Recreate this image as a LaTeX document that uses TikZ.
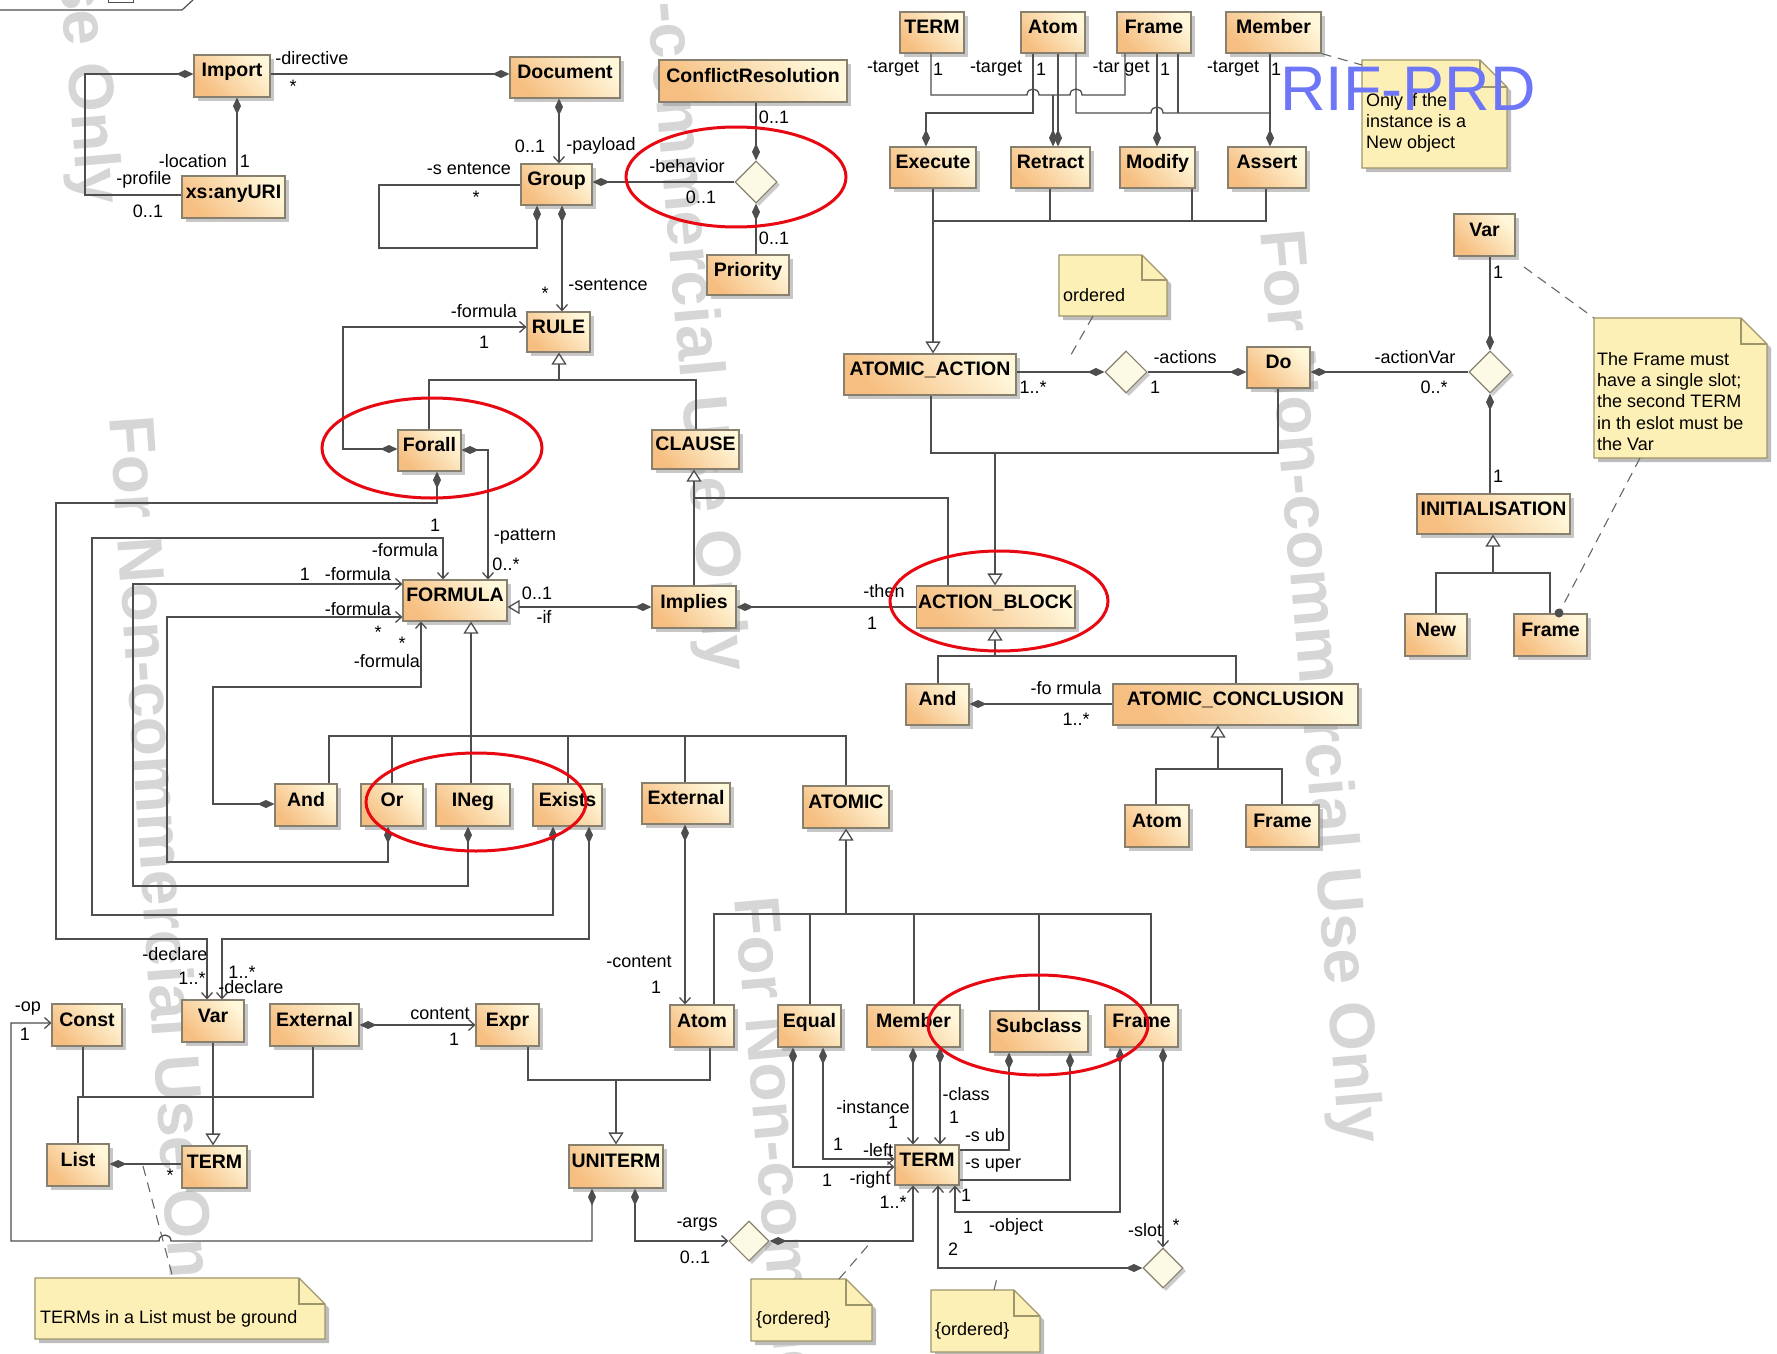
\documentclass[tikz,border=0pt]{standalone}
\usepackage{fontspec}
\setmainfont{Liberation Sans}
\usetikzlibrary{arrows.meta,shapes.geometric,shadows}

\definecolor{linec}{RGB}{78,78,78}
\definecolor{boxdark}{RGB}{246,190,128}
\definecolor{boxlight}{RGB}{255,247,218}
\definecolor{boxedge}{RGB}{136,128,110}
\definecolor{notefill}{RGB}{253,240,182}
\definecolor{noteedge}{RGB}{158,150,108}
\definecolor{diafill}{RGB}{252,250,228}
\definecolor{markred}{RGB}{232,8,18}
\definecolor{titleblue}{RGB}{110,118,248}
\definecolor{wmark}{RGB}{214,214,214}

\newcounter{lbn}
% class box given by its corners (x1,y1)-(x2,y2)
\newcommand\umlclass[6]{%
  \pgfmathsetmacro\ubw{#4-#2}%
  \pgfmathsetmacro\ubh{#5-#3}%
  \pgfmathsetmacro\ubx{(#2+#4)/2}%
  \pgfmathsetmacro\uby{(#3+#5)/2}%
  \node[umlbox, minimum width=\ubw pt, minimum height=\ubh pt] (#1) at (\ubx,\uby) {#6};}
% connector end label
\newcommand\elab[3]{\stepcounter{lbn}\node[lbl] (lab\arabic{lbn}) at (#1,#2) {#3};}
% note body with folded corner: x1,y1,x2,y2,fold
\newcommand\umlnote[5]{%
  \fill[black!26] (#1+4,#2+4) -- (#3-#5+4,#2+4) -- (#3+4,#2+#5+4) -- (#3+4,#4+4) -- (#1+4,#4+4) -- cycle;
  \filldraw[fill=notefill, draw=noteedge, line width=1.1pt] (#1,#2) -- (#3-#5,#2) -- (#3,#2+#5) -- (#3,#4) -- (#1,#4) -- cycle;
  \draw[noteedge, line width=1.1pt] (#3-#5,#2) -- (#3-#5,#2+#5) -- (#3,#2+#5);}

\begin{document}
\begin{tikzpicture}[x=1pt,y=-1pt,
  umlbox/.style={rectangle, draw=boxedge, line width=1.1pt,
    left color=boxdark, right color=boxlight, shading angle=135,
    inner sep=2pt, text height=14pt, text depth=12pt,
    font=\fontsize{19.5}{21}\selectfont\bfseries,
    drop shadow={shadow xshift=4pt, shadow yshift=-4pt, fill=black!40, opacity=.55}},
  assoc/.style={diamond, draw=boxedge, fill=diafill, line width=1.1pt,
    minimum width=42pt, minimum height=42pt, inner sep=0pt,
    drop shadow={shadow xshift=3pt, shadow yshift=-3pt, fill=black!40, opacity=.5}},
  lbl/.style={font=\fontsize{18}{20}\selectfont, inner sep=0pt},
  notetext/.style={font=\fontsize{18}{21.3}\selectfont, align=left, inner sep=0pt},
  wm/.style={font=\fontsize{64}{64}\selectfont\bfseries, text=wmark, inner sep=0pt},
  conn/.style={draw=linec, line width=1.3pt},
  dstart/.style={conn, {Diamond[length=17pt,width=8pt]}-},
  dend/.style={conn, -{Diamond[length=17pt,width=8pt]}},
  dstartarr/.style={conn, {Diamond[length=17pt,width=8pt]}-{Straight Barb[length=6pt,width=11pt]}},
  arr/.style={conn, -{Straight Barb[length=6pt,width=11pt]}},
  gen/.style={conn, -{Triangle[length=12pt,width=15pt,fill=white]}},
  notel/.style={draw=black!60, line width=1.1pt, dash pattern=on 10pt off 7pt},
  ring/.style={draw=markred, line width=3pt}]

\useasboundingbox (0,0) rectangle (1777,1354);
\fill[white] (0,0) rectangle (1777,1354);
\clip (0,0) rectangle (1777,1354);

% ---------- watermarks ----------
\node[wm, rotate=-85] (wmA) at (56,-252) {For Non-commercial Use Only};
\node[wm, rotate=-86] (wmB) at (158,874) {For Non-commercial Use Only};
\node[wm, rotate=-85] (wmC) at (683,215) {For Non-commercial Use Only};
\node[wm, rotate=-85] (wmD) at (791,1354) {For Non-commercial Use Only};
\node[wm, rotate=-85] (wmE) at (1317,687) {For Non-commercial Use Only};

% package frame fragment
\draw[conn, line width=1.2pt] (0,10) -- (182,10) -- (193,0);
\draw[conn, line width=1pt] (108,-2) rectangle (133,3);

% ---------- notes ----------
\umlnote{1362}{60}{1507}{168}{27}
\node[notetext, anchor=north west] (tNew) at (1366,93) {Only if the\\instance is a\\New object};
\umlnote{1594}{318}{1767}{458}{26}
\node[notetext, anchor=north west] (tSlot) at (1597,352) {The Frame must\\have a single slot;\\the second TERM\\in th eslot must be\\the Var};
\umlnote{1059}{255}{1167}{316}{25}
\node[notetext, anchor=west] (tOrdA) at (1063,295) {ordered};
\umlnote{35}{1278}{325}{1339}{26}
\node[notetext, anchor=west] (tList) at (40,1319) {TERMs in a List must be ground};
\umlnote{751}{1279}{872}{1341}{26}
\node[notetext, anchor=west] (tOrdB) at (756,1320) {\{ordered\}};
\umlnote{931}{1290}{1040}{1352}{26}
\node[notetext, anchor=west] (tOrdC) at (935,1331) {\{ordered\}};

% ---------- classes ----------
\umlclass{Import}{194}{55}{270}{97}{Import}
\umlclass{xsURI}{182}{176}{285}{218}{xs:anyURI}
\umlclass{Document}{510}{57}{620}{98}{Document}
\umlclass{Group}{521}{164}{592}{205}{Group}
\umlclass{CR}{659}{60}{847}{102}{ConflictResolution}
\umlclass{Priority}{707}{255}{789}{295}{Priority}
\umlclass{RULE}{527}{312}{590}{352}{RULE}
\umlclass{Forall}{398}{430}{461}{471}{Forall}
\umlclass{CLAUSE}{652}{430}{739}{469}{CLAUSE}
\umlclass{FORMULA}{403}{580}{507}{621}{FORMULA}
\umlclass{Implies}{652}{586}{736}{628}{Implies}
\umlclass{AB}{917}{586}{1074}{628}{ACTION\_BLOCK}
\umlclass{AndF}{275}{784}{337}{826}{And}
\umlclass{Or}{361}{784}{423}{826}{Or}
\umlclass{INeg}{436}{784}{510}{826}{INeg}
\umlclass{Exists}{533}{784}{602}{826}{Exists}
\umlclass{ExtF}{642}{783}{730}{824}{External}
\umlclass{ATOMIC}{803}{786}{889}{828}{ATOMIC}

\umlclass{TERMt}{900}{12}{964}{53}{TERM}
\umlclass{Atomt}{1021}{12}{1085}{53}{Atom}
\umlclass{Framet}{1117}{12}{1191}{53}{Frame}
\umlclass{Membert}{1226}{12}{1321}{53}{Member}
\umlclass{Execute}{890}{147}{976}{188}{Execute}
\umlclass{Retract}{1011}{147}{1090}{188}{Retract}
\umlclass{Modify}{1120}{147}{1195}{188}{Modify}
\umlclass{Assert}{1228}{147}{1306}{188}{Assert}
\umlclass{AA}{844}{354}{1016}{395}{ATOMIC\_ACTION}
\umlclass{Do}{1247}{347}{1310}{388}{Do}
\umlclass{VarR}{1454}{214}{1515}{256}{Var}
\umlclass{INIT}{1417}{494}{1570}{534}{INITIALISATION}
\umlclass{New}{1405}{614}{1467}{656}{New}
\umlclass{FrameR}{1514}{614}{1587}{656}{Frame}
\umlclass{AndC}{906}{684}{969}{725}{And}
\umlclass{AC}{1113}{684}{1358}{725}{ATOMIC\_CONCLUSION}
\umlclass{AtomC}{1125}{805}{1189}{847}{Atom}
\umlclass{FrameC}{1246}{805}{1319}{847}{Frame}

\umlclass{Const}{52}{1004}{122}{1046}{Const}
\umlclass{VarB}{182}{1000}{244}{1042}{Var}
\umlclass{ExtB}{270}{1004}{359}{1046}{External}
\umlclass{Expr}{476}{1004}{539}{1046}{Expr}
\umlclass{List}{47}{1144}{109}{1186}{List}
\umlclass{TERMb}{182}{1146}{247}{1188}{TERM}
\umlclass{UNITERM}{569}{1145}{663}{1188}{UNITERM}
\umlclass{AtomB}{670}{1005}{734}{1047}{Atom}
\umlclass{Equal}{778}{1005}{841}{1047}{Equal}
\umlclass{MemberB}{867}{1005}{960}{1047}{Member}
\umlclass{Subclass}{990}{1011}{1088}{1052}{Subclass}
\umlclass{FrameB}{1105}{1005}{1178}{1047}{Frame}
\umlclass{TERMc}{895}{1145}{959}{1185}{TERM}

% association diamonds
\node[assoc] (D1) at (756,182) {};
\node[assoc] (D2) at (1126,372) {};
\node[assoc] (D3) at (1490,372) {};
\node[assoc, minimum width=40pt, minimum height=40pt] (D4) at (749,1241) {};
\node[assoc, minimum width=40pt, minimum height=40pt] (D5) at (1163,1268) {};

% ---------- connectors: document structure ----------
\draw[dstart] (Import.west |- 0,74) -- (85,74) -- (85,195) -- (xsURI.west |- 0,195);
\draw[dstart] (237,0 |- Import.south) -- (237,0 |- xsURI.north);
\draw[dstart] (Document.west |- 0,74) -- (Import.east |- 0,74);
\draw[dstartarr] (559,0 |- Document.south) -- (559,0 |- Group.north);
\draw[dstart] (537,0 |- Group.south) -- (537,248) -- (379,248) -- (379,185) -- (Group.west |- 0,185);
\draw[dstartarr] (562,0 |- Group.south) -- (562,0 |- RULE.north);
\draw[dstart] (Group.east |- 0,182) -- (D1.west);
\draw[dend] (756,0 |- CR.south) -- (D1.north);
\draw[dstart] (D1.south) -- (756,0 |- Priority.north);

% ---------- connectors: rules and formulas ----------
\draw[dstartarr] (Forall.west |- 0,449) -- (343,449) -- (343,327) -- (RULE.west |- 0,327);
\draw[conn] (429,0 |- Forall.north) -- (429,380) -- (696,380) -- (696,0 |- CLAUSE.north);
\draw[gen] (559,380) -- (559,0 |- RULE.south);
\draw[dstartarr] (Forall.east |- 0,450) -- (488,450) -- (488,0 |- FORMULA.north);
\draw[dstartarr] (437,0 |- Forall.south) -- (437,503) -- (56,503) -- (56,939) -- (207,939) -- (207,0 |- VarB.north);
\draw[dstartarr] (553,0 |- Exists.south) -- (553,915) -- (92,915) -- (92,538) -- (443,538) -- (443,0 |- FORMULA.north);
\draw[dstartarr] (589,0 |- Exists.south) -- (589,939) -- (222,939) -- (222,0 |- VarB.north);
\draw[dstartarr] (468,0 |- INeg.south) -- (468,886) -- (133,886) -- (133,584) -- (FORMULA.west |- 0,584);
\draw[dstartarr] (388,0 |- Or.south) -- (388,862) -- (167,862) -- (167,617) -- (FORMULA.west |- 0,617);
\draw[dstartarr] (AndF.west |- 0,804) -- (213,804) -- (213,687) -- (421,687) -- (421,0 |- FORMULA.south);
\draw[gen] (471,736) -- (471,0 |- FORMULA.south);
\draw[conn] (329,0 |- AndF.north) -- (329,736) -- (846,736) -- (846,0 |- ATOMIC.north);
\draw[conn] (392,0 |- Or.north) -- (392,736);
\draw[conn] (471,0 |- INeg.north) -- (471,736);
\draw[conn] (568,0 |- Exists.north) -- (568,736);
\draw[conn] (685,0 |- ExtF.north) -- (685,736);
\draw[conn, {Diamond[length=17pt,width=8pt]}-{Triangle[length=12pt,width=14pt,fill=white]}] (Implies.west |- 0,607) -- (FORMULA.east |- 0,607);
\draw[dstart] (Implies.east |- 0,607) -- (AB.west |- 0,607);
\draw[gen] (694,498) -- (694,0 |- CLAUSE.south);
\draw[conn] (694,0 |- Implies.north) -- (694,498) -- (948,498) -- (948,0 |- AB.north);

% ---------- connectors: actions ----------
\draw[dend] (1033,0 |- Atomt.south) -- (1033,113) -- (926,113) -- (926,0 |- Execute.north);
\draw[conn] (931,0 |- TERMt.south) -- (931,95) -- (1027,95) .. controls (1027,87) and (1039,87) .. (1039,95)
   -- (1070,95) .. controls (1070,87) and (1082,87) .. (1082,95) -- (1125,95) -- (1125,0 |- Framet.south);
\draw[dend] (1053,95) -- (1053,0 |- Retract.north);
\draw[dend] (1058,0 |- Atomt.south) -- (1058,0 |- Retract.north);
\draw[dend] (1157,0 |- Framet.south) -- (1157,0 |- Modify.north);
\draw[conn] (1076,0 |- Atomt.south) -- (1076,113) -- (1151,113) .. controls (1151,105) and (1163,105) .. (1163,113) -- (1270,113);
\draw[conn] (1178,0 |- Framet.south) -- (1178,113);
\draw[dend] (1270,0 |- Membert.south) -- (1270,0 |- Assert.north);
\draw[conn] (933,0 |- Execute.south) -- (933,221) -- (1266,221) -- (1266,0 |- Assert.south);
\draw[conn] (1050,0 |- Retract.south) -- (1050,221);
\draw[conn] (1192,0 |- Modify.south) -- (1192,221);
\draw[gen] (933,221) -- (933,0 |- AA.north);
\draw[dend] (AA.east |- 0,372) -- (D2.west);
\draw[dend] (D2.east) -- (Do.west |- 0,372);
\draw[dstart] (Do.east |- 0,372) -- (D3.west);
\draw[dend] (1490,0 |- VarR.south) -- (D3.north);
\draw[dstart] (D3.south) -- (1490,0 |- INIT.north);
\draw[conn] (931,0 |- AA.south) -- (931,453) -- (1278,453) -- (1278,0 |- Do.south);
\draw[gen] (995,453) -- (995,0 |- AB.north);
\draw[gen] (995,656) -- (995,0 |- AB.south);
\draw[conn] (938,0 |- AndC.north) -- (938,656) -- (1236,656) -- (1236,0 |- AC.north);
\draw[dend] (AC.west |- 0,704) -- (AndC.east |- 0,704);
\draw[gen] (1218,769) -- (1218,0 |- AC.south);
\draw[conn] (1156,0 |- AtomC.north) -- (1156,769) -- (1282,769) -- (1282,0 |- FrameC.north);
\draw[gen] (1493,573) -- (1493,0 |- INIT.south);
\draw[conn] (1436,0 |- New.north) -- (1436,573) -- (1550,573) -- (1550,0 |- FrameR.north);

% ---------- connectors: terms ----------
\draw[dstartarr] (ExtB.east |- 0,1025) -- (Expr.west |- 0,1025);
\draw[conn] (83,0 |- Const.south) -- (83,1097);
\draw[conn] (78,0 |- List.north) -- (78,1097) -- (313,1097) -- (313,0 |- ExtB.south);
\draw[gen] (213,0 |- VarB.south) -- (213,0 |- TERMb.north);
\draw[dend] (TERMb.west |- 0,1164) -- (List.east |- 0,1164);
\draw[dstartarr] (592,0 |- UNITERM.south) -- (592,1241) -- (171,1241) .. controls (171,1233) and (159,1233) .. (159,1241)
   -- (11,1241) -- (11,1023) -- (Const.west |- 0,1023);
\draw[dstartarr] (635,0 |- UNITERM.south) -- (635,1241) -- (D4.west);
\draw[dstartarr] (D4.east) -- (913,1241) -- (913,0 |- TERMc.south);
\draw[dstartarr] (685,0 |- ExtF.south) -- (685,0 |- AtomB.north);
\draw[conn] (528,0 |- Expr.south) -- (528,1080) -- (710,1080) -- (710,0 |- AtomB.south);
\draw[gen] (616,1080) -- (616,0 |- UNITERM.north);
\draw[gen] (846,914) -- (846,0 |- ATOMIC.south);
\draw[conn] (714,0 |- AtomB.north) -- (714,914) -- (1151,914) -- (1151,0 |- FrameB.north);
\draw[conn] (810,0 |- Equal.north) -- (810,914);
\draw[conn] (914,0 |- MemberB.north) -- (914,914);
\draw[conn] (1039,0 |- Subclass.north) -- (1039,914);
\draw[dstartarr] (823,0 |- Equal.south) -- (823,1159) -- (TERMc.west |- 0,1159);
\draw[dstartarr] (793,0 |- Equal.south) -- (793,1167) -- (TERMc.west |- 0,1167);
\draw[dstartarr] (913,0 |- MemberB.south) -- (913,0 |- TERMc.north);
\draw[dstartarr] (940,0 |- MemberB.south) -- (940,0 |- TERMc.north);
\draw[dstart] (1009,0 |- Subclass.south) -- (1009,1150) -- (TERMc.east |- 0,1150);
\draw[dstart] (1070,0 |- Subclass.south) -- (1070,1180) -- (TERMc.east |- 0,1180);
\draw[dstartarr] (1120,0 |- FrameB.south) -- (1120,1212) -- (955,1212) -- (955,0 |- TERMc.south);
\draw[dstartarr] (1163,0 |- FrameB.south) -- (D5.north);
\draw[dstartarr] (D5.west) -- (938,1268) -- (938,0 |- TERMc.south);

% ---------- note anchors ----------
\draw[notel] (1093,316) -- (1068,360);
\draw[notel] (Membert.south east) -- (1362,65);
\draw[notel] (1524,267) -- (1594,318);
\draw[notel] (1640,458) -- (1559,613);
\fill[linec] (1559,613) circle (4.5);
\draw[notel] (143,1166) -- (173,1278);
\draw[notel] (839,1279) -- (871,1242);
\draw[notel] (994,1290) -- (998,1274);

% ---------- end labels ----------
\elab{144}{180}{-profile}
\elab{148}{211}{0..1}
\elab{193}{161}{-location}
\elab{245}{161}{1}
\elab{312}{58}{-directive}
\elab{293}{86}{*}
\elab{530}{146}{0..1}
\elab{601}{146}{-payload}
\elab{469}{169}{-s entence}
\elab{476}{197}{*}
\elab{545}{293}{*}
\elab{608}{285}{-sentence}
\elab{687}{166}{-behavior}
\elab{701}{197}{0..1}
\elab{774}{117}{0..1}
\elab{774}{238}{0..1}
\elab{484}{311}{-formula}
\elab{484}{342}{1}
\elab{525}{537}{-pattern}
\elab{506}{564}{0..*}
\elab{175}{954}{-declare}
\elab{192}{978}{1..*}
\elab{242}{972}{1..*}
\elab{251}{987}{-declare}
\elab{435}{525}{1}
\elab{405}{550}{-formula}
\elab{305}{574}{1}
\elab{358}{574}{-formula}
\elab{358}{609}{-formula}
\elab{378}{632}{*}
\elab{402}{643}{*}
\elab{387}{661}{-formula}
\elab{537}{593}{0..1}
\elab{544}{617}{-if}
\elab{884}{591}{-then}
\elab{872}{623}{1}
\elab{893}{69}{-target}
\elab{938}{69}{1}
\elab{996}{69}{-target}
\elab{1041}{69}{1}
\elab{1121}{69}{-tar get}
\elab{1165}{69}{1}
\elab{1233}{69}{-target}
\elab{1276}{69}{1}
\elab{1033}{387}{1..*}
\elab{1185}{357}{-actions}
\elab{1155}{387}{1}
\elab{1415}{357}{-actionVar}
\elab{1434}{387}{0..*}
\elab{1498}{272}{1}
\elab{1498}{476}{1}
\elab{1066}{688}{-fo rmula}
\elab{1076}{719}{1..*}
\elab{28}{1009}{-op}
\elab{25}{1034}{1}
\elab{440}{1014}{content}
\elab{454}{1039}{1}
\elab{170}{1175}{*}
\elab{639}{962}{-content}
\elab{656}{987}{1}
\elab{697}{1225}{-args}
\elab{695}{1257}{0..1}
\elab{893}{1202}{1..*}
\elab{873}{1107}{-instance}
\elab{893}{1122}{1}
\elab{966}{1094}{-class}
\elab{954}{1117}{1}
\elab{838}{1144}{1}
\elab{878}{1150}{-left}
\elab{827}{1180}{1}
\elab{870}{1180}{-right}
\elab{985}{1135}{-s ub}
\elab{993}{1166}{-s uper}
\elab{966}{1195}{1}
\elab{968}{1227}{1}
\elab{1016}{1227}{-object}
\elab{1145}{1230}{-slot}
\elab{1176}{1225}{*}
\elab{953}{1249}{2}

% ---------- highlight rings ----------
\draw[ring] (432,448) ellipse [x radius=110, y radius=50];
\draw[ring] (736,177) ellipse [x radius=110, y radius=50];
\draw[ring] (476,802) ellipse [x radius=110, y radius=49];
\draw[ring] (999,601) ellipse [x radius=109, y radius=50];
\draw[ring] (1038,1025) ellipse [x radius=110, y radius=50];

% ---------- title ----------
\node[anchor=base west, inner sep=0pt, text=titleblue, font=\fontsize{63}{63}\selectfont] (title) at (1280,110) {RIF-PRD};

\end{tikzpicture}
\end{document}
